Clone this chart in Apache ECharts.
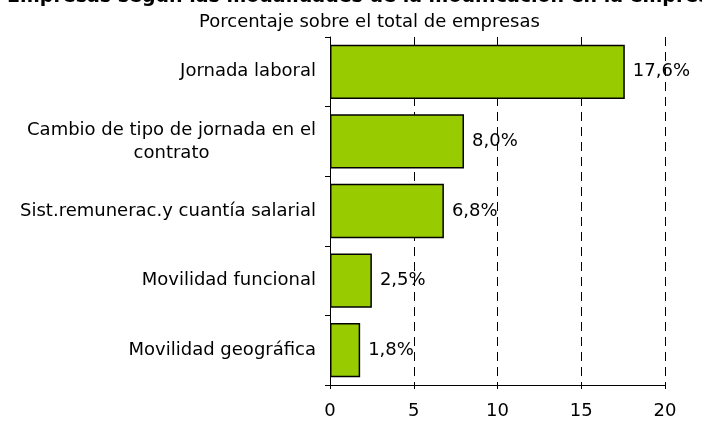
<!DOCTYPE html>
<html>
<head>
<meta charset="utf-8">
<script src="https://cdn.jsdelivr.net/npm/echarts@6/dist/echarts.min.js"></script>
<style>
  html, body { margin: 0; padding: 0; background: #fff; }
  #chart { width: 702px; height: 421px; }
</style>
</head>
<body>
<div id="chart"></div>
<script>
// categories from bottom to top (category axis on y starts at the bottom)
const categories = [
  'Movilidad geográfica',
  'Movilidad funcional',
  'Sist.remunerac.y cuantía salarial',
  'Cambio de tipo de jornada en el\ncontrato',
  'Jornada laboral'
];
const values = [1.8, 2.5, 6.8, 8.0, 17.6];
const xTicks = [0, 5, 10, 15, 20];

const font = 'DejaVu Sans, Arial, sans-serif';
const chart = echarts.init(document.getElementById('chart'));

chart.setOption({
  animation: false,
  textStyle: { fontFamily: font },
  title: [
    {
      text: 'Empresas según las modalidades de la modificación en la empresa',
      left: 2,
      top: -17,
      textStyle: { fontSize: 19, fontWeight: 'bold', color: '#000', fontFamily: font }
    },
    {
      text: 'Porcentaje sobre el total de empresas',
      left: 194,
      top: 8,
      textStyle: { fontSize: 18, fontWeight: 'normal', color: '#000', fontFamily: font }
    }
  ],
  grid: { left: 330, right: 37, top: 37, bottom: 36, containLabel: false },
  xAxis: {
    type: 'value',
    min: xTicks[0],
    max: xTicks[xTicks.length - 1],
    interval: 5,
    axisLine: { show: true, lineStyle: { color: '#000', width: 1 } },
    axisTick: { show: true, length: 4, lineStyle: { color: '#000' } },
    axisLabel: { color: '#000', fontSize: 18, margin: 17, fontFamily: font },
    splitLine: { show: true, lineStyle: { color: '#000', type: [9, 6], width: 1 } }
  },
  yAxis: {
    type: 'category',
    data: categories,
    axisLine: { show: true, lineStyle: { color: '#000', width: 1 } },
    axisTick: { show: true, length: 5, lineStyle: { color: '#000' } },
    axisLabel: {
      color: '#000',
      fontSize: 18,
      margin: 14,
      lineHeight: 23,
      fontFamily: font,
      formatter: function (v) {
        if (v.indexOf('\n') < 0) return v;
        return v.split('\n').map(function (s) { return '{c|' + s + '}'; }).join('\n');
      },
      rich: {
        c: { align: 'center', fontSize: 18, lineHeight: 23, color: '#000', fontFamily: font }
      }
    },
    splitLine: { show: false }
  },
  series: [{
    type: 'bar',
    data: values,
    barWidth: '78%',
    itemStyle: { color: '#99cc00', borderColor: '#000', borderWidth: 1.5 },
    label: {
      show: true,
      position: 'right',
      distance: 8,
      color: '#000',
      fontSize: 18,
      fontFamily: font,
      formatter: function (p) { return p.value.toFixed(1).replace('.', ',') + '%'; }
    }
  }]
});
</script>
</body>
</html>
